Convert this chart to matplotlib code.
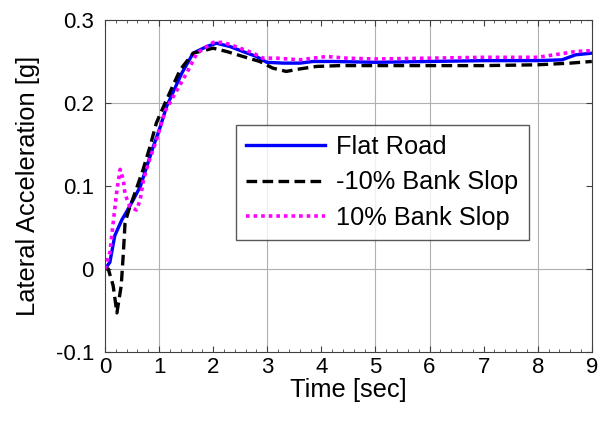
import numpy as np
import matplotlib.pyplot as plt

plt.rcParams["font.family"] = ["Liberation Sans", "DejaVu Sans"]

# Flat road
t_flat = [0.0, 0.09, 0.18, 0.31, 0.4, 0.52, 0.65, 0.77, 0.89, 1.02, 1.14, 1.42,
          1.63, 1.88, 2.06, 2.31, 2.55, 2.8, 2.99, 3.3, 3.6, 3.85, 4.2, 5.0,
          6.0, 7.0, 8.0, 8.45, 8.7, 9.0]
a_flat = [0.0, 0.008, 0.04, 0.059, 0.069, 0.083, 0.099, 0.123, 0.147, 0.171,
          0.196, 0.236, 0.26, 0.268, 0.272, 0.268, 0.262, 0.256, 0.249, 0.248,
          0.248, 0.25, 0.25, 0.249, 0.25, 0.251, 0.251, 0.252, 0.258, 0.26]

# -10% bank slope
t_neg = [0.0, 0.06, 0.15, 0.22, 0.3, 0.34, 0.37, 0.43, 0.55, 0.7, 0.83, 0.95,
         1.11, 1.39, 1.63, 2.0, 2.25, 2.55, 2.86, 3.1, 3.35, 3.6, 3.91, 4.34,
         5.0, 6.0, 7.0, 8.0, 8.6, 9.0]
a_neg = [0.0, 0.0, -0.02, -0.053, -0.02, 0.02, 0.055, 0.069, 0.091, 0.119,
         0.147, 0.176, 0.2, 0.24, 0.26, 0.266, 0.262, 0.256, 0.25, 0.242, 0.238,
         0.241, 0.244, 0.245, 0.245, 0.245, 0.245, 0.246, 0.248, 0.25]

# +10% bank slope
t_pos = [0.0, 0.09, 0.15, 0.22, 0.28, 0.34, 0.37, 0.46, 0.58, 0.65, 0.71, 0.8,
         0.95, 1.11, 1.51, 1.7, 2.0, 2.19, 2.5, 2.74, 2.92, 3.17, 3.6, 4.1,
         4.46, 5.0, 6.0, 7.0, 8.0, 8.7, 9.0]
a_pos = [0.0, 0.02, 0.055, 0.095, 0.12, 0.107, 0.09, 0.075, 0.071, 0.083,
         0.107, 0.127, 0.155, 0.19, 0.236, 0.26, 0.273, 0.273, 0.266, 0.26,
         0.254, 0.254, 0.252, 0.256, 0.254, 0.253, 0.254, 0.255, 0.255, 0.262,
         0.263]

fig = plt.figure(figsize=(6.07, 4.25), dpi=100)
ax = fig.add_axes([0.173, 0.172, 0.802, 0.781])

# grid (only these lines show in the original)
for x in [1, 3, 5, 6, 8]:
    ax.axvline(x, color="#b0b0b0", lw=0.8, zorder=0)
for y in [0.0, 0.2]:
    ax.axhline(y, color="#b0b0b0", lw=0.8, zorder=0)

ax.plot(t_flat, a_flat, "-", color="#0000ff", lw=2.4, label="Flat Road")
ax.plot(t_neg, a_neg, "--", color="k", lw=2.4, dashes=(3.2, 1.6),
        label="-10% Bank Slop")
ax.plot(t_pos, a_pos, ":", color="#ff00ff", lw=2.6, dashes=(1, 1.1),
        label="10% Bank Slop")

ax.set_xlim(0, 9)
ax.set_ylim(-0.1, 0.3)
ax.set_xticks(range(10))
ax.set_yticks([-0.1, 0, 0.1, 0.2, 0.3])
ax.set_yticklabels(["-0.1", "0", "0.1", "0.2", "0.3"])
ax.set_xticks(np.arange(0, 9.01, 0.2), minor=True)
ax.tick_params(which="both", direction="in", top=True, right=True,
               labelsize=16, color="#404040")
ax.tick_params(which="major", length=4, width=0.8)
ax.tick_params(which="minor", length=2.5, width=0.6)
ax.tick_params(axis="y", pad=8)
ax.tick_params(axis="x", pad=4)
for s in ax.spines.values():
    s.set_color("#404040")
    s.set_linewidth(0.8)

ax.set_xlabel("Time [sec]", fontsize=18.4, labelpad=0)
ax.set_ylabel("Lateral Acceleration [g]", fontsize=18.4, labelpad=11)

leg = ax.legend(loc="upper left", bbox_to_anchor=(0.269, 0.684),
                borderaxespad=0, fontsize=18.3, frameon=True, fancybox=False,
                handlelength=3.1, handletextpad=0.45, labelspacing=0.45,
                borderpad=0.4)
leg.get_frame().set_edgecolor("#303030")
leg.get_frame().set_linewidth(1.0)

fig.savefig("out.png", dpi=100)
